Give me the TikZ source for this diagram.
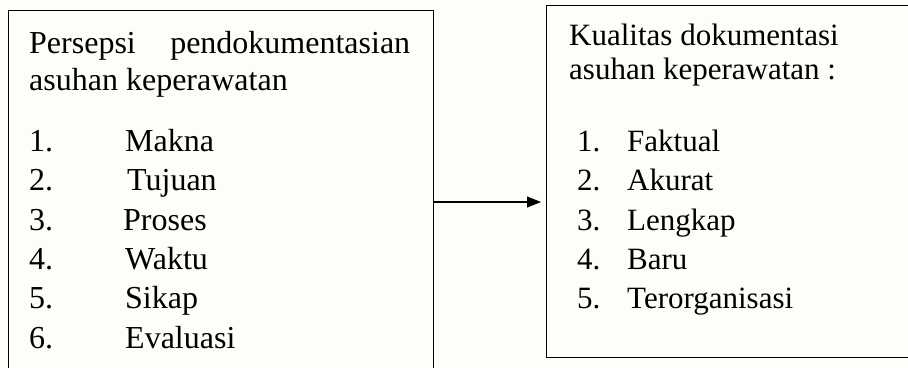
\documentclass[tikz,border=0pt]{standalone}
\usepackage{fontspec}
\setmainfont{Liberation Serif}
\usetikzlibrary{arrows.meta}
\begin{document}
\begin{tikzpicture}[x=1bp,y=-1bp,
  txt/.style={anchor=base west,inner sep=0pt,font=\fontsize{32bp}{36bp}\selectfont},
  txr/.style={anchor=base west,inner sep=0pt,font=\fontsize{31bp}{34bp}\selectfont},
  boxa/.style={draw,line width=0.9bp,anchor=north west,inner sep=0pt},
  conn/.style={line width=1.1bp,-{Triangle[length=14bp,width=11bp]}}]
\useasboundingbox (0,0) rectangle (908,367);
\clip (0,0) rectangle (908,367);
\fill[fill={rgb,255:red,253;green,253;blue,249}] (0,0) rectangle (908,367);
% boxes
\node[boxa,minimum width=425bp,minimum height=380bp] (L) at (8,10) {};
\node[boxa,minimum width=372bp,minimum height=352bp] (R) at (546,5) {};
% left texts
\node[txt] (l0) at (29,53) {\hbox to 381bp{Persepsi\hfill pendokumentasian}};
\node[txt] (l1) at (29,90) {asuhan keperawatan};
\node[txt] (n1) at (29,151.5) {1.};
\node[txt] (n2) at (29,190.8) {2.};
\node[txt] (n3) at (29,230) {3.};
\node[txt] (n4) at (29,269.4) {4.};
\node[txt] (n5) at (29,308.7) {5.};
\node[txt] (n6) at (29,348) {6.};
\node[txt] (i1) at (125,151.5) {Makna};
\node[txt] (i2) at (127,190.8) {Tujuan};
\node[txt] (i3) at (123,230) {Proses};
\node[txt] (i4) at (125,269.4) {Waktu};
\node[txt] (i5) at (125,308.7) {Sikap};
\node[txt] (i6) at (125,348) {Evaluasi};
% right texts
\node[txr] (r0) at (569,45) {Kualitas dokumentasi};
\node[txr] (r1) at (569,79) {asuhan keperawatan :};
\node[txr] (m1) at (577,151) {1.};
\node[txr] (m2) at (577,190) {2.};
\node[txr] (m3) at (577,230) {3.};
\node[txr] (m4) at (577,269) {4.};
\node[txr] (m5) at (577,308) {5.};
\node[txr] (j1) at (627,151) {Faktual};
\node[txr] (j2) at (627,190) {Akurat};
\node[txr] (j3) at (627,230) {Lengkap};
\node[txr] (j4) at (627,269) {Baru};
\node[txr] (j5) at (627,308) {Terorganisasi};
% connector
\coordinate (A) at (0,202);
\draw[conn] (L.east |- A) -- ([xshift=-5bp]R.west |- A);
\end{tikzpicture}
\end{document}
